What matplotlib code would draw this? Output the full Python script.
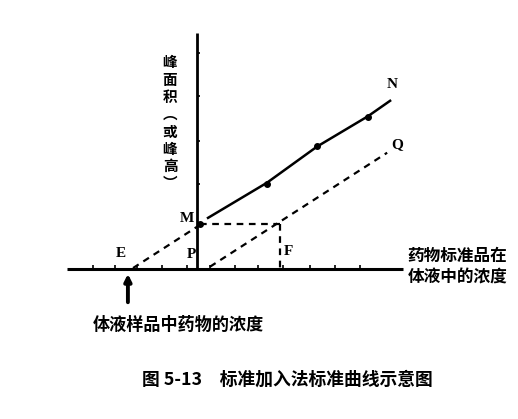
import matplotlib
matplotlib.use("Agg")
import matplotlib.pyplot as plt
import numpy as np

plt.rcParams['font.family'] = ['Noto Sans CJK SC', 'DejaVu Sans']

### data (x: concentration units, y: peak area units)
pts_x = [0.12, 2.86, 4.9, 6.98]          # M + standard additions
pts_y = [1.02, 1.93, 2.8, 3.45]
fit_x = [0.45, 2.86, 4.9, 6.98, 7.88]    # solid line M -> N
fit_y = [1.16, 1.96, 2.78, 3.47, 3.82]
ext_x = [-2.61, 0.12]                    # extrapolation E -> M
ext_y = [0.02, 1.0]
par_x = [0.53, 7.76]                     # parallel line P -> Q
par_y = [0.05, 2.64]
f_x = 3.39                               # F
m_y = 1.02
xticks = [-4.24, -3.35, -2.45, -1.43, -0.41, 0.53, 1.55, 2.49, 3.51, 4.61, 5.63, 6.65]
yticks = [1.0, 1.93, 2.91, 3.93, 4.91]
e_x = -2.82

fig = plt.figure(figsize=(5.18, 4.19), dpi=100)
ax = fig.add_axes([0, 0, 1, 1])
ax.set_xlim(-8.04, 13.1)
ax.set_ylim(-3.41, 6.11)
ax.axis("off")

# axes
ax.plot([-5.3, 8.41], [0, 0], color="black", lw=2.2, solid_capstyle="butt")
ax.plot([0, 0], [0, 5.36], color="black", lw=2.0, solid_capstyle="butt")
ax.vlines(xticks, 0, 0.08, color="black", lw=1.2)
ax.hlines(yticks, 0, 0.12, color="black", lw=1.2)

# lines
ax.plot(fit_x, fit_y, color="black", lw=1.8)
ax.plot(pts_x, pts_y, "o", color="black", ms=4)
ax.plot(ext_x, ext_y, color="black", lw=1.6, ls=(0, (3, 2.5)))
ax.plot(par_x, par_y, color="black", lw=1.6, ls=(0, (3, 2.5)))
ax.plot([pts_x[0], f_x], [m_y, m_y], color="black", lw=1.6, ls=(0, (3, 2.5)))
ax.plot([f_x, f_x], [m_y, 0], color="black", lw=1.6, ls=(0, (3, 2.5)))

# arrow under E
ax.annotate("", xy=(e_x, -0.05), xytext=(e_x, -0.82),
            arrowprops=dict(arrowstyle="-|>", color="black", lw=2.8, mutation_scale=10))

# point labels
lab = dict(family="Liberation Serif", fontsize=11, fontweight="bold", ha="center", va="center")
ax.text(7.96, 4.18, "N", **lab)
ax.text(8.16, 2.82, "Q", **lab)
ax.text(-0.41, 1.14, "M", **lab)
ax.text(-3.1, 0.36, "E", **lab)
ax.text(-0.24, 0.32, "P", **lab)
ax.text(3.71, 0.39, "F", **lab)

# axis titles
ax.text(-1.1, 3.32, "峰\n面\n积\n︵\n或\n峰\n高\n︶", fontsize=10.5, fontweight="bold",
        ha="center", va="center", linespacing=1.1)
ax.text(8.6, 0.05, "药物标准品在\n体液中的浓度", fontsize=12, fontweight="bold",
        ha="left", va="center", linespacing=1.3)
ax.text(-4.24, -1.27, "体液样品中药物的浓度", fontsize=12.3, fontweight="bold",
        ha="left", va="center")

fig.text(0.275, 0.094, "图 5-13　标准加入法标准曲线示意图", fontsize=12.8, fontweight="bold",
         ha="left", va="center")

plt.savefig("out.png", dpi=100)
plt.close()
